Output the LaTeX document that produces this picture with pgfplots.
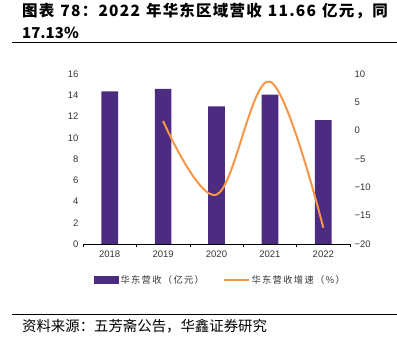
\documentclass[border=0pt]{standalone}
\usepackage{pgfplots}
\pgfplotsset{compat=1.18}
\usepackage{fontspec}
\setmainfont{Liberation Sans}
\newfontfamily\cjk{Noto Sans CJK SC}
\newfontfamily\cjkls{Noto Sans CJK SC}[LetterSpace=14]
\newfontfamily\cjkt{Noto Sans CJK SC}[LetterSpace=8]
\definecolor{barpurple}{HTML}{4B2C80}
\definecolor{lineorange}{HTML}{F79646}
\definecolor{txtgray}{HTML}{333333}
\begin{document}
\begin{tikzpicture}[x=1pt,y=1pt]
\useasboundingbox (0,0) rectangle (397,337);
\node[anchor=west, inner sep=0] at (22,326) {\cjkt\bfseries\fontsize{15.5}{17}\selectfont 图表\hspace{6pt}78：2022\hspace{6pt}年华东区域营收\hspace{6pt}11.66\hspace{6pt}亿元，同};
\node[anchor=west, inner sep=0] at (22,304) {\cjk\bfseries\fontsize{15}{17}\selectfont 17.13\%};
\draw[line width=1pt] (12,294) -- (397,294);
\draw[line width=0.8pt] (12,23) -- (397,23);
\node[anchor=west, inner sep=0] at (22,11) {\cjk\fontsize{14.4}{16}\selectfont 资料来源：五芳斋公告，华鑫证券研究};
\begin{axis}[at={(83pt,93pt)}, anchor=south west, scale only axis, width=267pt, height=170pt,
  xmin=-0.5, xmax=4.5, ymin=0, ymax=16, ytick={0,2,...,16},
  axis x line*=bottom, axis y line*=left, y axis line style={draw=none},
  x axis line style={black, line width=0.8pt},
  xtick={0,1,2,3,4}, xticklabels={2018,2019,2020,2021,2022},
  minor xtick={-0.5,0.5,...,4.5}, minor tick length=3pt, major tick length=0pt,
  tick align=outside, minor tick style={black, line width=0.6pt},
  ticklabel style={font=\fontsize{9.5}{11}\selectfont, text=txtgray},
  /pgf/number format/assume math mode=true,
  yticklabel style={xshift=-1pt}, xticklabel style={yshift=-3pt},
  ybar, bar width=16.7pt, clip=false]
\addplot[fill=barpurple, draw=none] coordinates {(0,14.36) (1,14.6) (2,12.95) (3,14.07) (4,11.66)};
\end{axis}
\begin{axis}[at={(83pt,93pt)}, anchor=south west, scale only axis, width=267pt, height=170pt,
  xmin=-0.5, xmax=4.5, ymin=-20, ymax=10, ytick={-20,-15,...,10},
  yticklabels={−20,−15,−10,−5,0,5,10},
  axis x line=none, axis y line*=right, y axis line style={draw=none},
  major tick length=0pt,
  ticklabel style={font=\fontsize{9.5}{11}\selectfont, text=txtgray},
  yticklabel style={xshift=1pt},
  legend style={at={(0.515,-0.212)}, anchor=center, legend columns=2, draw=none, fill=none,
    font=\cjkls\fontsize{9.3}{12}\selectfont, text=txtgray,
    /tikz/every even column/.append style={column sep=17pt}},
  legend cell align=left, clip=false]
\addlegendimage{legend image code/.code={\fill[barpurple] (0pt,-3.5pt) rectangle (24pt,3.5pt);}}
\addlegendentry{华东营收（亿元）}
\addplot[lineorange, line width=2pt, smooth, tension=0.6, legend image code/.code={\draw[lineorange, line width=1.5pt] (0pt,0pt) -- (25pt,0pt);}] coordinates {(1,1.7) (2,-11.3) (3,8.65) (4,-17.13)};
\addlegendentry{华东营收增速（\%）}
\end{axis}
\end{tikzpicture}
\end{document}
